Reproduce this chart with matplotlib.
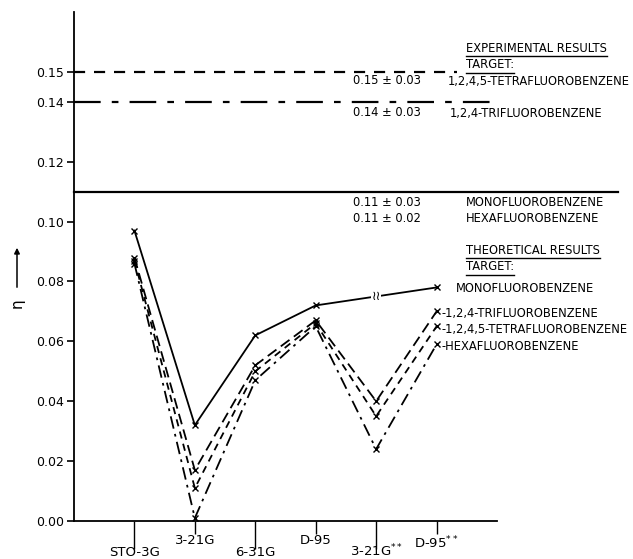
import matplotlib
matplotlib.use("Agg")
import matplotlib.pyplot as plt
from matplotlib.lines import Line2D
import matplotlib.transforms as mtrans
import matplotlib.patches as mpatches

# ---- data ----
basis_sets = ["STO-3G", "3-21G", "6-31G", "D-95", "3-21G**", "D-95**"]
basis_labels = ["STO-3G", "3-21G", "6-31G", "D-95", r"3-21G$^{**}$", r"D-95$^{**}$"]
mono = [0.097, 0.032, 0.062, 0.072, 0.075, 0.078]
trifluoro = [0.088, 0.017, 0.052, 0.067, 0.040, 0.070]
tetrafluoro = [0.087, 0.011, 0.050, 0.066, 0.035, 0.065]
hexafluoro = [0.086, 0.001, 0.047, 0.065, 0.024, 0.059]

exp_tetra = 0.15
exp_tri = 0.14
exp_mono_hexa = 0.11

yticks = [0.00, 0.02, 0.04, 0.06, 0.08, 0.10, 0.12, 0.14, 0.15]
ytick_labels = ["0.00", "0.02", "0.04", "0.06", "0.08", "0.10", "0.12", "0.14", "0.15"]

W, H = 633, 559
fig = plt.figure(figsize=(W / 100, H / 100), dpi=100)
ax = fig.add_axes([74 / W, (H - 521) / H, (497 - 74) / W, (521 - 12) / H])

x = list(range(1, len(basis_sets) + 1))
ax.set_xlim(0, 7)
ax.set_ylim(0, 0.170)

lw = 1.3
ax.plot(x, mono, color="black", lw=lw, marker="x", ms=4, mew=1, markevery=[0, 1, 2, 3, 5])
ax.plot(x, trifluoro, color="black", lw=lw, ls=(0, (6, 3)), marker="x", ms=4, mew=1)
ax.plot(x, tetrafluoro, color="black", lw=lw, ls=(0, (4, 3)), marker="x", ms=4, mew=1)
ax.plot(x, hexafluoro, color="black", lw=lw, ls=(0, (7, 3, 1.5, 3)), marker="x", ms=4, mew=1)

# experimental lines, extending beyond the axes
ax.plot([0, 6.34], [exp_tetra, exp_tetra], color="black", lw=1.6, ls=(0, (5, 4)), clip_on=False)
ax.plot([0, 7.05], [exp_tri, exp_tri], color="black", lw=1.6, ls=(0, (12, 5, 3, 5)), clip_on=False)
ax.plot([0, 9.0], [exp_mono_hexa, exp_mono_hexa], color="black", lw=1.6, clip_on=False)

# spines
for s in ["top", "right"]:
    ax.spines[s].set_visible(False)
ax.spines["left"].set_linewidth(1.3)
ax.spines["bottom"].set_linewidth(1.3)

ax.set_yticks(yticks)
ax.set_yticklabels(ytick_labels, fontsize=9)
ax.tick_params(axis="y", direction="out", length=5, width=1.2, pad=2)

ax.set_xticks(x)
ax.set_xticklabels([""] * len(x))
ax.tick_params(axis="x", direction="out", width=1.0)
tick_len = [20, 9, 20, 9, 20, 9]
for t, L in zip(ax.xaxis.get_major_ticks(), tick_len):
    t.tick1line.set_markersize(L)

label_y_px = [553, 541, 553, 541, 551, 543]
btr = mtrans.blended_transform_factory(ax.transData, fig.transFigure)
for xi, lab, py in zip(x, basis_labels, label_y_px):
    ax.text(xi, (H - py) / H, lab, fontsize=9.5, ha="center", va="center",
            transform=btr, clip_on=False)

# break symbol on mono at 3-21G**
ax.text(x[4], mono[4], "≀≀", fontsize=9, ha="center", va="center",
        bbox=dict(boxstyle="square,pad=0.0", fc="white", ec="none"))

# y label with arrow
fig.text(17 / W, (H - 303) / H, "η", fontsize=11, rotation=90, ha="center", va="center")
fig.add_artist(mpatches.FancyArrowPatch((17 / W, (H - 290) / H), (17 / W, (H - 245) / H),
                                        transform=fig.transFigure, arrowstyle="-|>",
                                        mutation_scale=8, lw=1.1, color="black"))

fs = 8.3
def ftext(px, py, s, **kw):
    return fig.text(px / W, (H - py) / H, s, fontsize=fs, ha="left", va="center", **kw)

underlined = []
underlined.append(ftext(466, 48, "EXPERIMENTAL RESULTS"))
underlined.append(ftext(466, 65, "TARGET:"))
ftext(353, 81, "0.15 ± 0.03")
ftext(448, 81, "1,2,4,5-TETRAFLUOROBENZENE")
ftext(353, 113, "0.14 ± 0.03")
ftext(450, 113, "1,2,4-TRIFLUOROBENZENE")
ftext(353, 202, "0.11 ± 0.03")
ftext(466, 202, "MONOFLUOROBENZENE")
ftext(353, 218, "0.11 ± 0.02")
ftext(466, 218, "HEXAFLUOROBENZENE")
underlined.append(ftext(466, 250, "THEORETICAL RESULTS"))
underlined.append(ftext(466, 267, "TARGET:"))
ftext(456, 288, "MONOFLUOROBENZENE")
ftext(441, 313, "-1,2,4-TRIFLUOROBENZENE")
ftext(441, 329, "-1,2,4,5-TETRAFLUOROBENZENE")
ftext(441, 347, "-HEXAFLUOROBENZENE")

fig.canvas.draw()
r = fig.canvas.get_renderer()
for t in underlined:
    bb = t.get_window_extent(r)
    yline = bb.y0 - 1
    fig.add_artist(Line2D([bb.x0 / W, bb.x1 / W], [yline / H, yline / H],
                          transform=fig.transFigure, color="black", lw=1.0))

fig.savefig("out.png", dpi=100)
